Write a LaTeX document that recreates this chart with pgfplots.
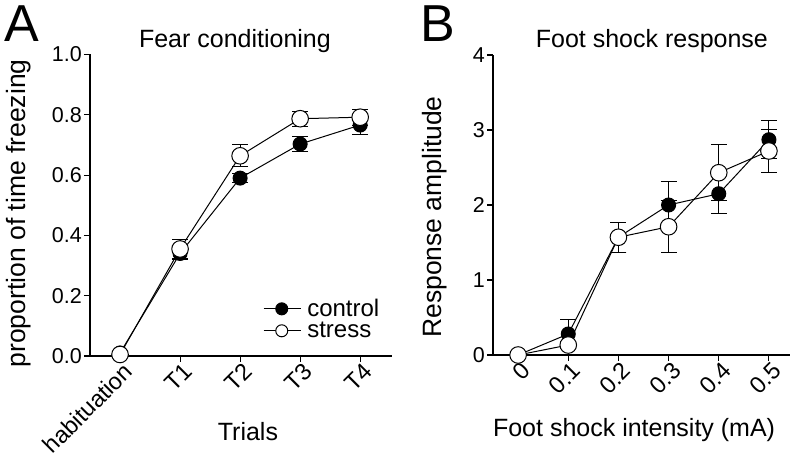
\documentclass[border=0pt]{standalone}
\usepackage{pgfplots}
\pgfplotsset{compat=1.18}
\usepackage{fontspec}
\setmainfont{Liberation Sans}
\begin{document}
\begin{tikzpicture}
\useasboundingbox (0pt,0pt) rectangle (800pt,465pt);
\pgfplotsset{
 panel/.style={
  scale only axis, clip=false,
  axis x line*=bottom, axis y line*=left,
  axis line style={line width=1.1pt},
  tick style={line width=1.1pt, black},
  tick align=outside,
  major tick length=6pt,
  yticklabel style={font=\fontsize{21.5}{25}\selectfont, inner sep=2pt},
  xticklabel style={font=\fontsize{23.5}{27}\selectfont, rotate=45, anchor=north east, inner sep=1pt, xshift=3pt},
  xlabel style={font=\fontsize{25}{29}\selectfont, inner sep=0pt},
  ylabel style={font=\fontsize{26.5}{30}\selectfont, inner sep=0pt},
  title style={font=\fontsize{25}{29}\selectfont, inner sep=0pt},
  every axis plot/.append style={line width=1pt},
 },
 ctrl/.style={black, mark=*, mark size=7pt, mark options={fill=black, solid},
   error bars/y dir=both, error bars/y explicit,
   error bars/error bar style={line width=1pt, black},
   error bars/error mark options={rotate=90, mark size=8pt, line width=1pt, black}},
 strs/.style={black, mark=*, mark size=8.3pt, mark options={fill=white, solid, line width=1pt},
   error bars/y dir=both, error bars/y explicit,
   error bars/error bar style={line width=1pt, black},
   error bars/error mark options={rotate=90, mark size=8pt, line width=1pt, black}},
}
% Panel A
\begin{axis}[panel,
  at={(90pt,109pt)}, anchor=south west,
  width=302pt, height=301.5pt,
  xmin=-0.5, xmax=4.53, ymin=0, ymax=1,
  xtick={0,1,2,3,4}, xticklabels={habituation,T1,T2,T3,T4},
  ytick={0,0.2,0.4,0.6,0.8,1.0}, yticklabels={0.0,0.2,0.4,0.6,0.8,1.0},
  title={Fear conditioning},
  title style={at={(axis description cs:0.48,1)}, anchor=base, yshift=1pt},
  xlabel={Trials},
  xlabel style={at={(axis description cs:0.523,-0.281)}, anchor=base},
  ylabel={proportion of time freezing},
  ylabel style={at={(axis description cs:-0.195,0.473)}, anchor=south},
  legend style={draw=none, fill=none, at={(axis description cs:0.573,0.195)}, anchor=north west,
    font=\fontsize{24}{27}\selectfont, row sep=0pt, column sep=4pt, inner sep=0pt},
  legend cell align=left,
  legend image code/.code={\draw[mark repeat=2,mark phase=2] plot coordinates {(0pt,0pt) (18pt,0pt) (37pt,0pt)};},
  legend image post style={mark size=6pt},
]
\addplot+[ctrl] coordinates {
 (0,0.01) +- (0,0.005)
 (1,0.34) +- (0,0.02)
 (2,0.59) +- (0,0.015)
 (3,0.703) +- (0,0.025)
 (4,0.766) +- (0,0.03)
};
\addlegendentry{control}
\addplot+[strs] coordinates {
 (0,0.005) +- (0,0.005)
 (1,0.355) +- (0,0.03)
 (2,0.664) +- (0,0.036)
 (3,0.787) +- (0,0.025)
 (4,0.792) +- (0,0.026)
};
\addlegendentry{stress}
\end{axis}
% Panel B
\begin{axis}[panel,
  at={(493pt,110pt)}, anchor=south west,
  width=297pt, height=300pt,
  xmin=-0.05, xmax=0.542, ymin=0, ymax=4,
  xtick={0,0.1,0.2,0.3,0.4,0.5}, xticklabels={0,0.1,0.2,0.3,0.4,0.5},
  ytick={0,1,2,3,4}, yticklabels={0,1,2,3,4},
  title={Foot shock response},
  title style={at={(axis description cs:0.535,1)}, anchor=base, yshift=1pt},
  xlabel={Foot shock intensity (mA)},
  xlabel style={at={(axis description cs:0.475,-0.272)}, anchor=base},
  ylabel={Response amplitude},
  ylabel style={at={(axis description cs:-0.155,0.46)}, anchor=south},
]
\addplot+[ctrl] coordinates {
 (0,0) +- (0,0)
 (0.1,0.28) +- (0,0.19)
 (0.2,1.57) +- (0,0.2)
 (0.3,2.0) +- (0,0.31)
 (0.4,2.15) +- (0,0.26)
 (0.5,2.87) +- (0,0.25)
};
\addplot+[strs] coordinates {
 (0,0) +- (0,0)
 (0.1,0.133) +- (0,0.05)
 (0.2,1.57) +- (0,0.2)
 (0.3,1.71) +- (0,0.35)
 (0.4,2.43) +- (0,0.37)
 (0.5,2.72) +- (0,0.29)
};
\end{axis}
\node[anchor=base west, inner sep=0pt, font=\fontsize{52}{60}\selectfont] at (4pt,423pt) {A};
\node[anchor=base west, inner sep=0pt, font=\fontsize{52}{60}\selectfont] at (420pt,423pt) {B};
\end{tikzpicture}
\end{document}
